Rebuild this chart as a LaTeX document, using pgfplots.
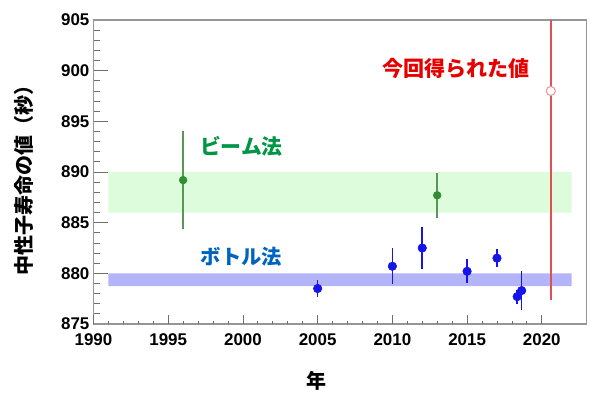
\documentclass[border=0pt]{standalone}
\usepackage{pgfplots}
\pgfplotsset{compat=1.18}
\usepackage{fontspec}
\setmainfont{Liberation Sans}
\newfontfamily\cjk{Noto Sans CJK JP}
\definecolor{gband}{RGB}{220,252,220}
\definecolor{bband}{RGB}{180,180,248}
\definecolor{gtext}{RGB}{0,150,70}
\definecolor{gpt}{RGB}{50,140,50}
\definecolor{gerr}{RGB}{90,150,90}
\definecolor{btext}{RGB}{0,100,190}
\definecolor{bpt}{RGB}{20,20,235}
\definecolor{rtext}{RGB}{230,0,0}
\definecolor{rline}{RGB}{225,80,80}
\definecolor{rcirc}{RGB}{240,150,150}
\definecolor{framec}{RGB}{150,150,150}
\definecolor{tickc}{RGB}{110,110,110}
\begin{document}
\begin{tikzpicture}
\path[use as bounding box] (-70.1pt,-54.75pt) rectangle (379.9pt,243pt);
\begin{axis}[
  name=ax, at={(0,0)}, anchor=south west,
  scale only axis, width=369.9pt, height=228pt,
  xmin=1990, xmax=2023, ymin=875, ymax=905,
  xtick=\empty,
  ytick={875,880,...,905}, minor y tick num=4,
  ytick pos=left, tick align=inside,
  major tick length=11.25pt, minor tick length=5.25pt,
  tick style={draw=tickc, line width=0.6pt},
  axis line style={draw=framec, line width=0.8pt},
  /pgf/number format/assume math mode=true,
  yticklabel style={font=\fontsize{12.7}{12.7}\selectfont\bfseries, xshift=0.5pt},
  ylabel={\cjk\bfseries 中性子寿命の値（秒）},
  ylabel style={at={(axis description cs:-0.142,0.49)}, anchor=center, font=\fontsize{15}{15}\selectfont},
]
% bands
\addplot[fill=gband, draw=none, forget plot] coordinates {(1991,886) (2022,886) (2022,890) (1991,890) (1991,886)};
\addplot[fill=bband, draw=none, forget plot] coordinates {(1991,878.75) (2022,878.75) (2022,880) (1991,880) (1991,878.75)};
% beam method error bars
\addplot[draw=none, mark=none, forget plot, error bars/.cd, y dir=both, y explicit, error mark=none,
  error bar style={draw=gerr, line width=1.1pt}]
  coordinates {(1996,889.2) +- (0,4.8) (2013,887.7) +- (0,2.2)};
\addplot[only marks, mark=*, mark size=2.9pt, mark options={fill=gpt, draw=gpt}]
  coordinates {(1996,889.2) (2013,887.7)};
% bottle method error bars
\addplot[draw=none, mark=none, forget plot, error bars/.cd, y dir=both, y explicit, error mark=none,
  error bar style={draw=bpt, line width=1.2pt}]
  coordinates {(2005,878.5) +- (0,0.8) (2010,880.7) +- (0,1.8) (2012,882.5) +- (0,2.1)
  (2015,880.2) +- (0,1.2) (2017,881.5) +- (0,0.9) (2018.35,877.7) +- (0,0.7) (2018.65,878.3) +- (0,1.9)};
\addplot[only marks, mark=*, mark size=3.2pt, mark options={fill=bpt, draw=bpt}]
  coordinates {(2005,878.5) (2010,880.7) (2012,882.5) (2015,880.2) (2017,881.5) (2018.35,877.7) (2018.65,878.3)};
% this result
\addplot[draw=none, mark=none, forget plot, error bars/.cd, y dir=both, y explicit, error mark=none,
  error bar style={draw=rline, line width=1.4pt}]
  coordinates {(2020.6,898) += (0,18) -= (0,20.65)};
\addplot[only marks, mark=*, mark size=3.4pt, mark options={fill=white, draw=rcirc, line width=0.8pt}]
  coordinates {(2020.6,898)};
% annotations
\node[text=rtext, font=\cjk\bfseries\fontsize{15.8}{15.8}\selectfont, inner sep=0pt] at (axis cs:2014.27,900.26) {今回得られた値};
\node[text=gtext, font=\cjk\bfseries\fontsize{15.6}{15.6}\selectfont, inner sep=0pt] at (axis cs:1999.9,892.5) {ビーム法};
\node[text=btext, font=\cjk\bfseries\fontsize{15.2}{15.2}\selectfont, inner sep=0pt] at (axis cs:1999.9,881.6) {ボトル法};
\end{axis}
\begin{axis}[
  at={(0,0)}, anchor=south west,
  scale only axis, width=369.9pt, height=228pt,
  xmin=1990, xmax=2023, ymin=875, ymax=905,
  ytick=\empty,
  xtick={1990,1995,...,2020}, minor x tick num=4,
  xtick pos=bottom, tick align=inside,
  major tick length=6.5pt, minor tick length=2.5pt,
  tick style={draw=tickc, line width=0.6pt},
  axis line style={draw=none},
  /pgf/number format/assume math mode=true,
  /pgf/number format/1000 sep={},
  xticklabel style={font=\fontsize{12.7}{12.7}\selectfont\bfseries, yshift=-4pt},
  xlabel={\cjk\bfseries 年},
  xlabel style={at={(axis description cs:0.453,0)}, yshift=-42.75pt, anchor=center, font=\fontsize{15}{15}\selectfont},
]
\end{axis}
\end{tikzpicture}
\end{document}
